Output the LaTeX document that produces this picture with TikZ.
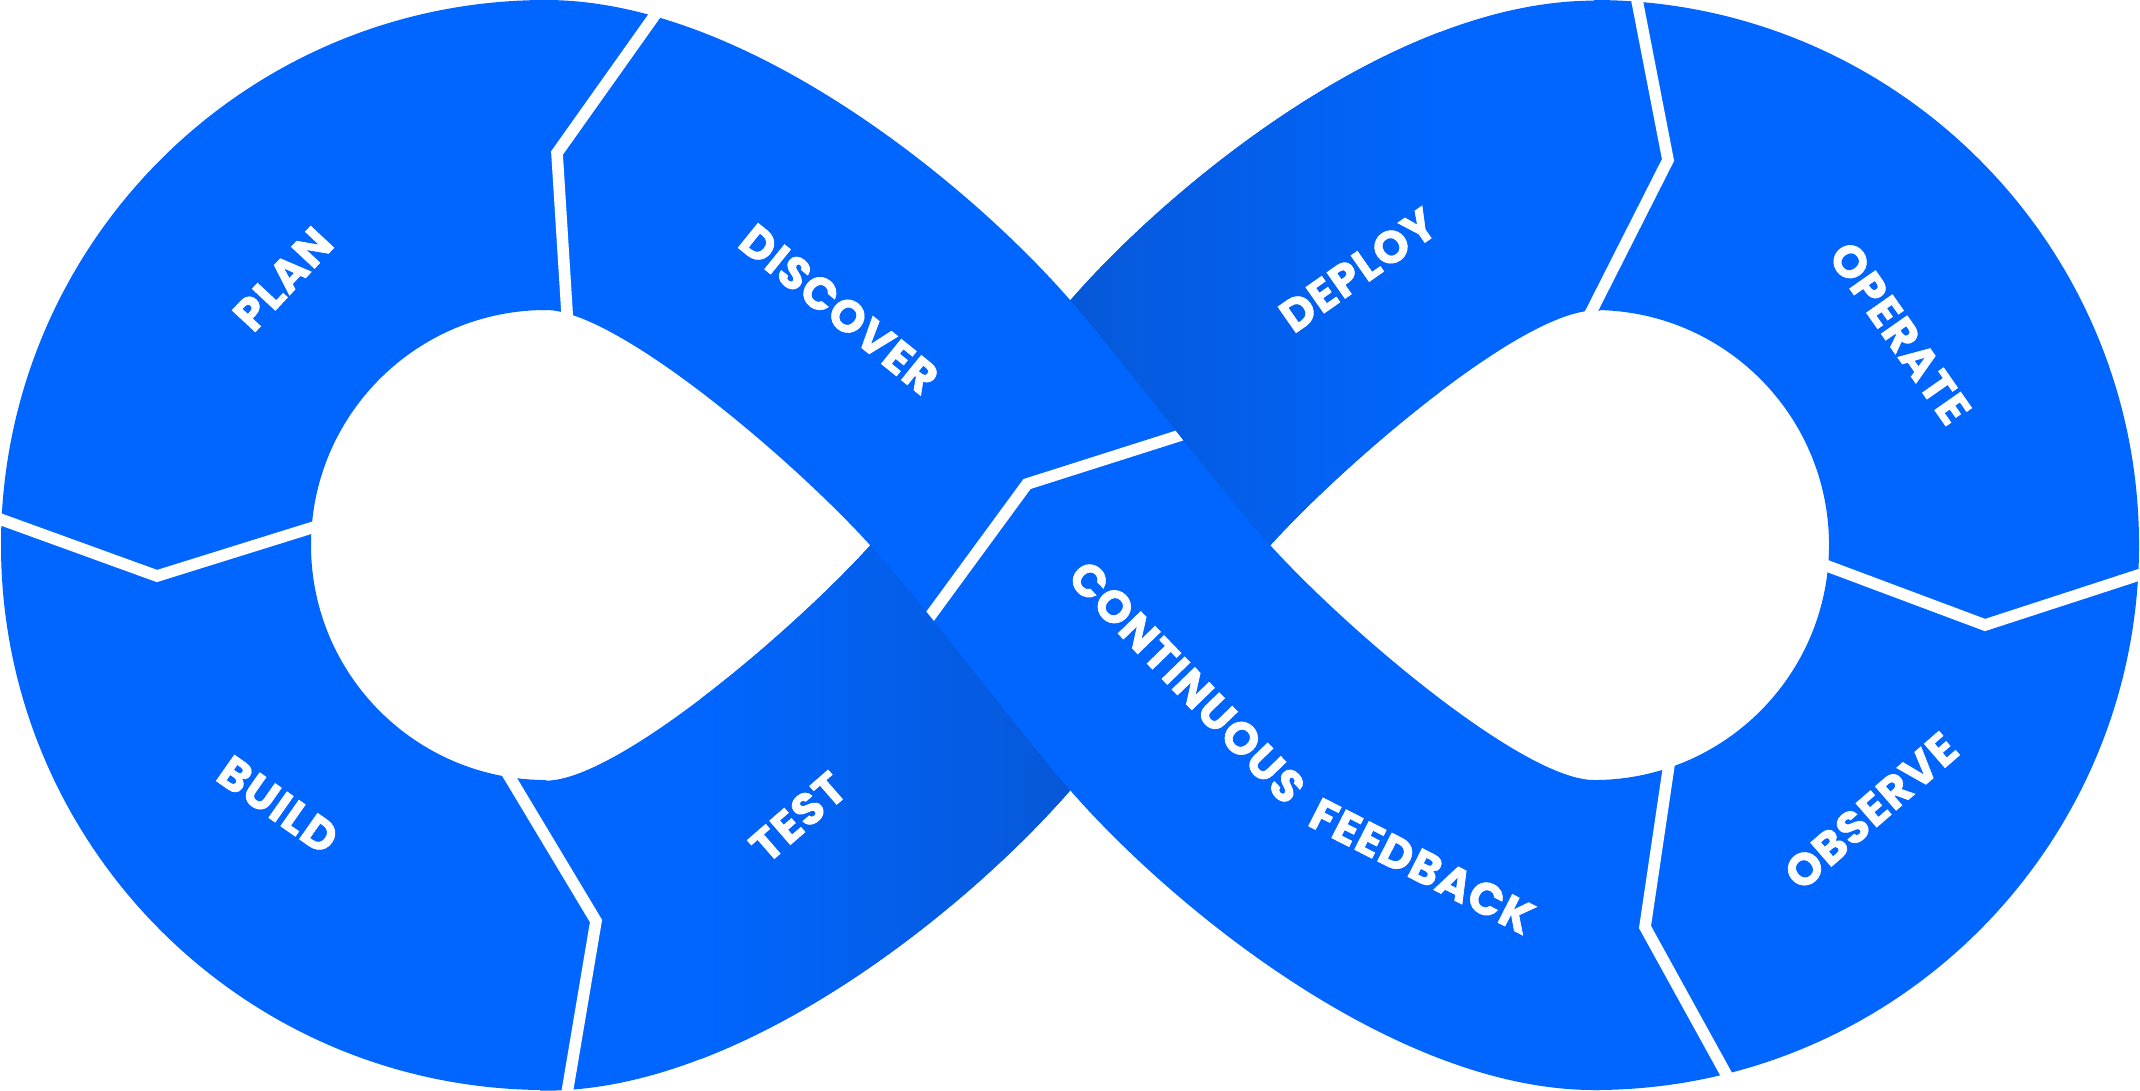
\documentclass[tikz,border=0pt]{standalone}
\usepackage{fontspec}
\newfontfamily\stagefont[LetterSpace=3, FakeBold=1.5]{Poppins}
\definecolor{loopblue}{RGB}{0,102,255}
\definecolor{loopdark}{RGB}{7,88,216}

% outline of the band that crosses on top (DISCOVER -> CONTINUOUS FEEDBACK)
\newcommand\bandpath{(540,0) -- (546,0)
  .. controls (746,0) and (970,185) .. (1070,300)
  .. controls (1130,369) and (1210,479) .. (1270,545)
  .. controls (1350,633) and (1524,780) .. (1594,780)
  -- (1600,780) -- (1600,1090) -- (1594,1090)
  .. controls (1394,1090) and (1170,905) .. (1070,790)
  .. controls (1010,721) and (930,611) .. (870,545)
  .. controls (790,457) and (616,310) .. (546,310)
  -- (540,310) -- cycle}

\begin{document}
\begin{tikzpicture}[x=0.01cm, y=-0.01cm,
    stage/.style={text=white, inner sep=0pt, font=\stagefont\bfseries\fontsize{12.8}{15}\selectfont},
    cut/.style={draw=white, line width=3.3pt}]
  \useasboundingbox (0,0) rectangle (2140,1090);

  % band running underneath: TEST -> DEPLOY
  \begin{scope}[yshift=-10.9cm, yscale=-1]
    \clip \bandpath;
    \fill[loopblue] (500,-10) rectangle (1650,1100);
    \shade[left color=loopblue, right color=loopblue, middle color=loopdark] (700,-10) rectangle (1440,1100);
  \end{scope}

  % the two rings
  \fill[loopblue] (546,0) arc[start angle=270, end angle=90, radius=545]
    -- (546,780) arc[start angle=90, end angle=270, radius=235] -- cycle;
  \fill[loopblue] (1594,0) arc[start angle=270, end angle=450, radius=545]
    -- (1594,780) arc[start angle=90, end angle=-90, radius=235] -- cycle;

  % band on top: DISCOVER -> CONTINUOUS FEEDBACK
  \fill[loopblue] \bandpath;
  \begin{scope}
    \clip \bandpath;
    \draw[cut] (1200,429) -- (1027,484) -- (920,630);
  \end{scope}

  % cuts between the stages
  \draw[cut] (667,-2) -- (557,153) -- (568,328);
  \draw[cut] (-14,514) -- (157,576) -- (327,523);
  \draw[cut] (500,761) -- (596,921) -- (565,1105);
  \draw[cut] (1635,-10) -- (1668,160) -- (1585,324);
  \draw[cut] (1814,561) -- (1985,625) -- (2154,570);
  \draw[cut] (1671,751) -- (1645,927) -- (1731,1083);

  \node[stage, rotate=47]  (plan)       at (283,279)  {PLAN};
  \node[stage, rotate=-39] (discover)   at (839,309)  {DISCOVER};
  \node[stage, rotate=-35] (build)      at (278,805)  {BUILD};
  \node[stage, rotate=41]  (test)       at (798,817)  {TEST};
  \node[stage, rotate=35]  (deploy)     at (1358,270) {DEPLOY};
  \node[stage, rotate=-55] (operate)    at (1900,333) {OPERATE};
  \node[stage, rotate=41]  (observe)    at (1871,811) {OBSERVE};
  \node[stage, rotate=-46] (continuous) at (1187,682) {CONTINUOUS};
  \node[stage, rotate=-27] (feedback)   at (1422,866) {FEEDBACK};
\end{tikzpicture}
\end{document}
